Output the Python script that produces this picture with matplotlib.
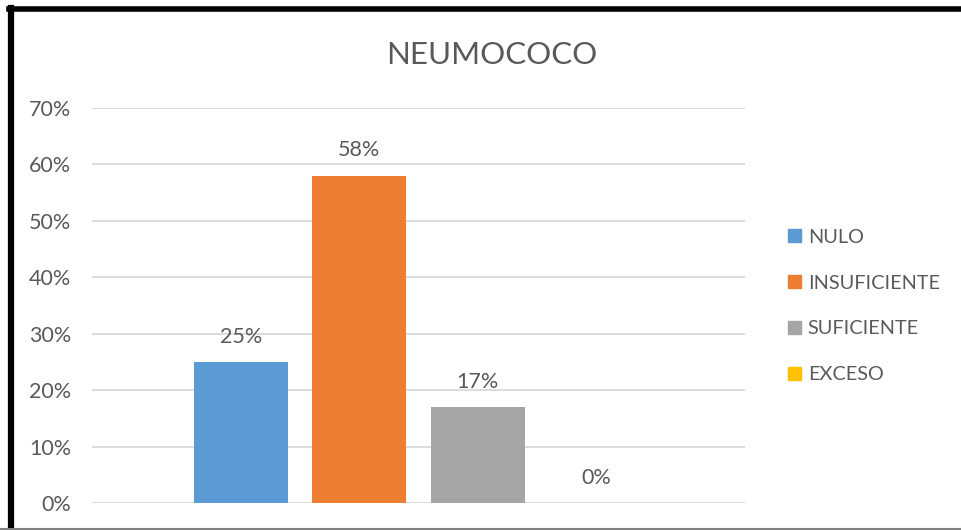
import matplotlib
matplotlib.use("Agg")
import matplotlib.pyplot as plt
from matplotlib.patches import Rectangle
from matplotlib.lines import Line2D

title = "NEUMOCOCO"
series = ["NULO", "INSUFICIENTE", "SUFICIENTE", "EXCESO"]
values = [0.25, 0.58, 0.17, 0.0]
colors = ["#5B9BD5", "#ED7D31", "#A5A5A5", "#FFC000"]
yticks = [0, 0.1, 0.2, 0.3, 0.4, 0.5, 0.6, 0.7]

plt.rcParams['font.family'] = ['Lato', 'DejaVu Sans']
txt = "#595959"

fig = plt.figure(figsize=(9.62, 5.30), dpi=100)
ax = fig.add_axes([92/962, 27/530, (745-92)/962, (503-108)/530])

xs = list(range(len(series)))
bars = ax.bar(xs, values, width=0.793, color=colors, zorder=3)
for x, v in zip(xs, values):
    ax.text(x, v + 0.027, f"{round(v*100)}%", ha="center", va="bottom",
            fontsize=15.5, color=txt)

ax.set_xlim(-1.255, 4.255)
ax.set_ylim(0, 0.7)
ax.set_yticks(yticks)
ax.set_yticklabels([f"{round(t*100)}%" for t in yticks], fontsize=15.5, color=txt)
ax.tick_params(axis='y', length=0, pad=15)
ax.set_xticks([])
ax.grid(axis='y', color='#D9D9D9', linewidth=1.3, zorder=0)
for s in ax.spines.values():
    s.set_visible(False)

fig.text(492/962, 1 - 55/530, title, ha="center", va="center", fontsize=22.5, color=txt)

handles = [Rectangle((0, 0), 1, 1, color=c) for c in colors]
fig.legend(handles, series, loc="center left", bbox_to_anchor=(770/962, 1 - 306/530),
           frameon=False, fontsize=14.3, labelcolor=txt, handlelength=0.65, handleheight=0.65,
           handletextpad=0.35, labelspacing=1.45)

# border lines
fig.add_artist(Line2D([11/962, 11/962], [1 - 8/530, 0], transform=fig.transFigure,
                      color='black', linewidth=4.5))
fig.add_artist(Line2D([9/962, 1], [1 - 8.5/530, 1 - 8.5/530], transform=fig.transFigure,
                      color='black', linewidth=4))
fig.add_artist(Line2D([0, 1], [1.5/530, 1.5/530], transform=fig.transFigure,
                      color='#808080', linewidth=1.5))

fig.savefig("out.png", dpi=100)
